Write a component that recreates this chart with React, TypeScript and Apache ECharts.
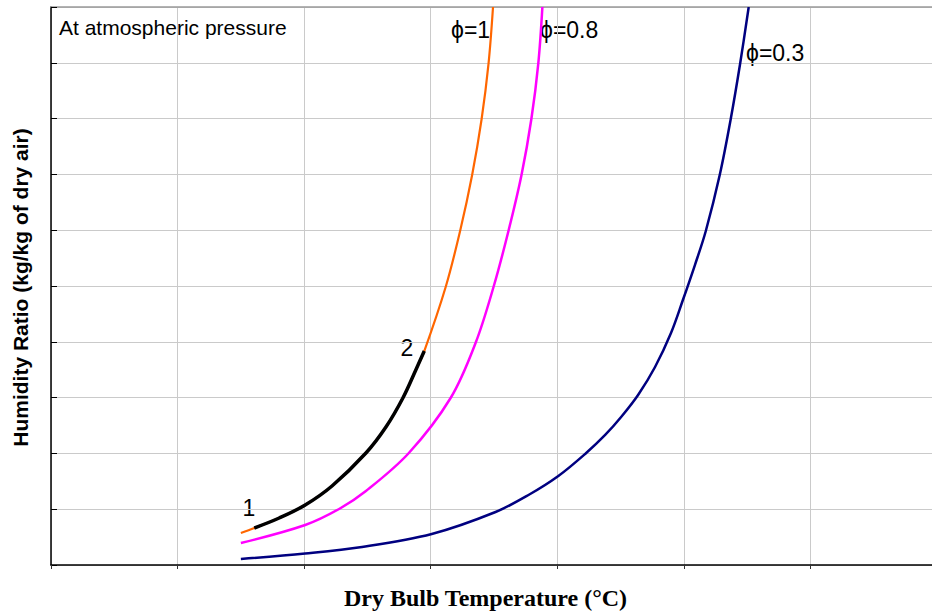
import React, { useEffect, useRef } from "react";
import * as echarts from "echarts";

// Dry bulb temperature (°C) and humidity ratio (relative units)
const satT = [15.0, 16.06, 18.03, 20.08, 22.2, 24.88, 26.46, 27.8, 28.82, 29.49, 31.18, 32.32, 33.27, 34.02, 34.57, 34.92];
const satW = [0.573, 0.663, 0.842, 1.075, 1.416, 2.007, 2.473, 2.993, 3.495, 3.835, 4.982, 5.986, 6.989, 7.993, 8.996, 10.0];

const processT = [16.06, 18.03, 20.08, 22.2, 24.88, 26.46, 27.8, 28.82, 29.49];
const processW = [0.663, 0.842, 1.075, 1.416, 2.007, 2.473, 2.993, 3.495, 3.835];

const rh80T = [15.0, 20.08, 22.76, 24.88, 28.27, 31.57, 33.54, 34.96, 36.14, 37.17, 37.95, 38.5, 38.82];
const rh80W = [0.394, 0.717, 1.004, 1.326, 2.007, 2.993, 3.978, 4.982, 5.986, 6.989, 7.993, 8.996, 10.0];

const rh30T = [15.0, 20.08, 24.57, 30.08, 35.12, 37.72, 40.08, 42.28, 43.78, 45.04, 46.38, 47.72, 48.98, 49.92, 50.87, 51.73, 52.83, 53.7, 54.45, 55.12];
const rh30W = [0.108, 0.206, 0.323, 0.556, 0.95, 1.254, 1.595, 2.007, 2.33, 2.652, 3.047, 3.548, 4.158, 4.749, 5.376, 5.986, 6.989, 7.993, 8.996, 10.0];

const xMin = 0;
const xMax = 69.6;
const xStep = 10;
const yMin = 0;
const yMax = 10;
const yStep = 1;

const curveLabels = ["ϕ=1", "ϕ=0.8", "ϕ=0.3"];
const stateLabels = ["1", "2"];
const noteText = "At atmospheric pressure";
const xTitle = "Dry Bulb Temperature (°C)";
const yTitle = "Humidity Ratio (kg/kg of dry air)";

const pair = (xs: number[], ys: number[]) => xs.map((x, i) => [x, ys[i]]);

export default function App() {
  const ref = useRef<HTMLDivElement>(null);

  useEffect(() => {
    if (!ref.current) return;
    const chart = echarts.init(ref.current, null, { renderer: "svg" });
    const sans = "'Liberation Sans', Arial, Helvetica, sans-serif";
    const serif = "'Liberation Serif', 'Times New Roman', serif";

    // A smooth curve drawn through the axes' scales (api.coord) as one polyline
    const curveSeries = (name: string, data: number[][], color: string, width: number, z: number) => ({
      name,
      type: "custom",
      coordinateSystem: "cartesian2d",
      xAxisIndex: 0,
      yAxisIndex: 0,
      data,
      z,
      silent: true,
      clip: true,
      renderItem: (params: any, api: any) => {
        if (params.dataIndex !== 0) return null;
        const pts = data.map((d) => api.coord(d));
        return {
          type: "polyline",
          shape: { points: pts, smooth: 0.35 },
          style: { stroke: color, lineWidth: width, fill: "none", lineJoin: "round", lineCap: "butt" },
          silent: true,
        };
      },
    });

    chart.setOption({
      animation: false,
      backgroundColor: "#ffffff",
      grid: { left: 51, right: -3, top: 7, bottom: 50, containLabel: false },
      xAxis: [
        {
          type: "value",
          min: xMin,
          max: xMax,
          interval: xStep,
          position: "bottom",
          axisLine: { show: true, onZero: false, lineStyle: { color: "#000", width: 1.5 } },
          axisTick: { show: true, inside: false, length: 4, lineStyle: { color: "#333", width: 1 } },
          axisLabel: { show: false },
          splitLine: { show: true, lineStyle: { color: "#cacaca", width: 1 } },
        },
        {
          type: "value",
          min: xMin,
          max: xMax,
          position: "top",
          axisLine: { show: true, onZero: false, lineStyle: { color: "#9a9a9a", width: 1.5 } },
          axisTick: { show: false },
          axisLabel: { show: false },
          splitLine: { show: false },
        },
      ],
      yAxis: {
        type: "value",
        min: yMin,
        max: yMax,
        interval: yStep,
        axisLine: { show: true, onZero: false, lineStyle: { color: "#000", width: 1.5 } },
        axisTick: { show: true, inside: true, length: 6, lineStyle: { color: "#000", width: 1 } },
        axisLabel: { show: false },
        splitLine: { show: true, lineStyle: { color: "#cacaca", width: 1 } },
      },
      series: [
        curveSeries("ϕ=0.3", pair(rh30T, rh30W), "#000080", 2.5, 2),
        curveSeries("ϕ=0.8", pair(rh80T, rh80W), "#ff00ff", 2.5, 3),
        curveSeries("ϕ=1", pair(satT, satW), "#ff6600", 2.2, 4),
        curveSeries("process 1-2", pair(processT, processW), "#000000", 3.5, 5),
      ],
      graphic: [
        {
          type: "text",
          left: 59,
          top: 17,
          style: { text: noteText, font: `21px ${sans}`, fill: "#000" },
        },
        {
          type: "text",
          x: 451,
          y: 30,
          style: { text: curveLabels[0], font: `23px ${sans}`, fill: "#000", textVerticalAlign: "middle" },
        },
        {
          type: "text",
          x: 540,
          y: 30,
          style: { text: curveLabels[1], font: `23px ${sans}`, fill: "#000", textVerticalAlign: "middle" },
        },
        {
          type: "text",
          x: 746,
          y: 53,
          style: { text: curveLabels[2], font: `23px ${sans}`, fill: "#000", textVerticalAlign: "middle" },
        },
        {
          type: "text",
          x: 249,
          y: 508,
          style: { text: stateLabels[0], font: `23px ${sans}`, fill: "#000", textAlign: "center", textVerticalAlign: "middle" },
        },
        {
          type: "text",
          x: 407,
          y: 348,
          style: { text: stateLabels[1], font: `23px ${sans}`, fill: "#000", textAlign: "center", textVerticalAlign: "middle" },
        },
        {
          type: "text",
          x: 485.5,
          y: 598,
          style: { text: xTitle, font: `bold 24px ${serif}`, fill: "#000", textAlign: "center", textVerticalAlign: "middle" },
        },
        {
          type: "text",
          x: 20,
          y: 287.5,
          rotation: Math.PI / 2,
          style: { text: yTitle, font: `bold 21px ${sans}`, fill: "#000", textAlign: "center", textVerticalAlign: "middle" },
        },
      ],
    });

    return () => chart.dispose();
  }, []);

  return (
    <div
      ref={ref}
      style={{ position: "absolute", left: 0, top: 0, width: 932, height: 615, background: "#fff" }}
    />
  );
}
